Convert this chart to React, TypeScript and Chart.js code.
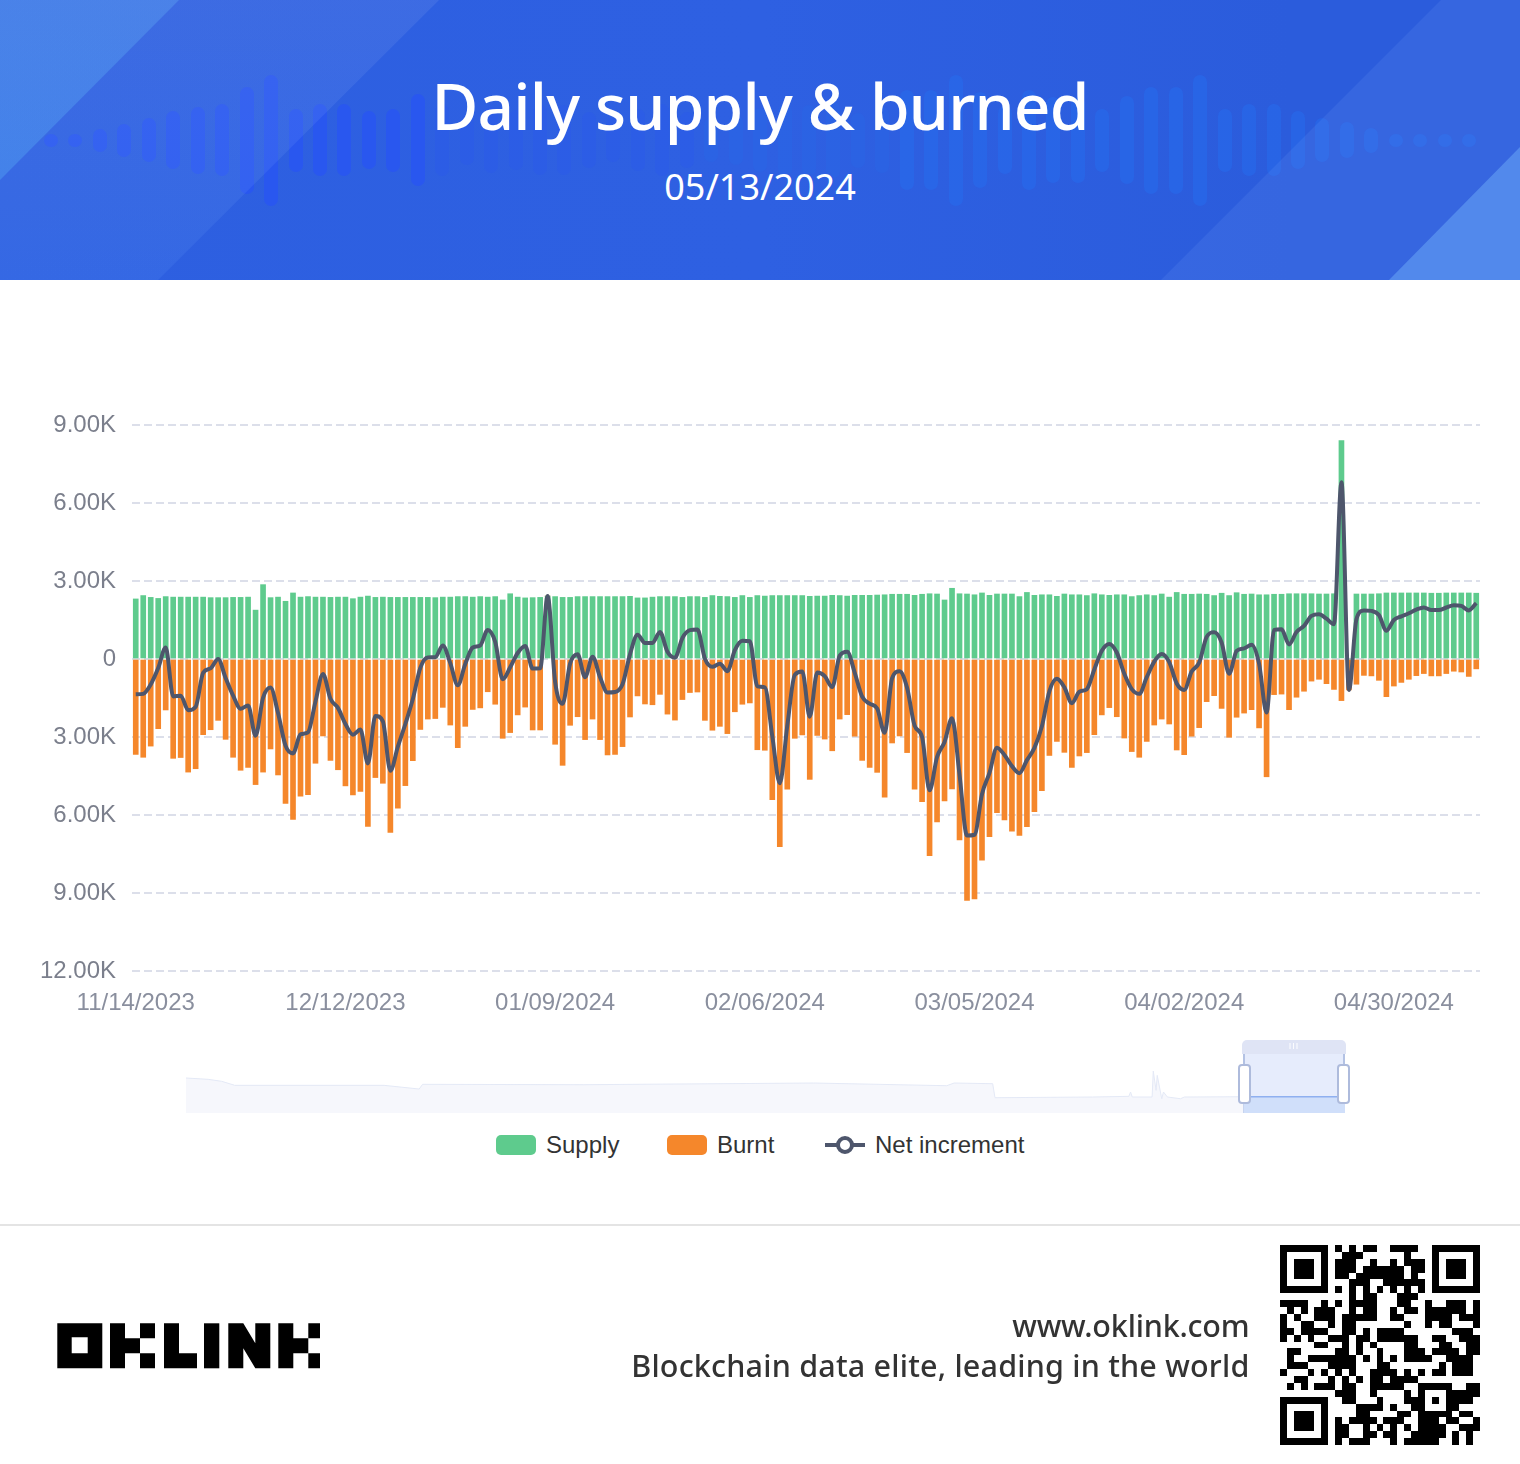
import React, { useEffect, useRef } from "react";
import { Chart, registerables } from "chart.js";

Chart.register(...registerables);

const startDate = [2023, 10, 14];
const dayCount = 180;
const tickEvery = 28;

const supply = [
  2310,2440,2370,2330,2400,2380,2380,2380,2380,2380,2360,2360,2360,2370,2370,2380,1880,2860,2360,2380,
  2220,2540,2380,2400,2380,2380,2370,2380,2380,2320,2380,2420,2370,2380,2370,2370,2370,2370,2370,2370,
  2360,2380,2380,2400,2400,2380,2400,2380,2400,2270,2510,2380,2350,2360,2370,2420,2400,2370,2370,2400,
  2400,2400,2400,2400,2400,2400,2410,2350,2350,2380,2400,2400,2400,2370,2400,2400,2370,2440,2410,2400,
  2370,2440,2370,2440,2420,2440,2440,2440,2440,2440,2410,2420,2420,2450,2440,2420,2450,2450,2450,2460,
  2470,2490,2490,2490,2450,2490,2510,2500,2270,2720,2510,2500,2470,2540,2450,2500,2500,2500,2400,2560,
  2450,2470,2470,2410,2500,2470,2470,2440,2510,2470,2450,2470,2470,2400,2440,2470,2440,2500,2380,2560,
  2490,2490,2500,2490,2440,2530,2440,2550,2490,2500,2470,2470,2490,2490,2510,2510,2510,2510,2500,2500,
  2510,8400,0,2500,2500,2500,2510,2540,2540,2540,2540,2540,2540,2530,2530,2540,2540,2540,2540,2530,
];

const burnt = [
  -3670,-3780,-3350,-2680,-1960,-3820,-3790,-4350,-4220,-2910,-2720,-2360,-3090,-3780,-4280,-4170,-4830,-4350,-3460,-4460,
  -5550,-6170,-5280,-5220,-4010,-2960,-3900,-4260,-4880,-5230,-5090,-6440,-4560,-4780,-6670,-5740,-4870,-3910,-2710,-2310,
  -2290,-1860,-2540,-3410,-2590,-1940,-1880,-1260,-1740,-3050,-2830,-2150,-1850,-2730,-2730,0,-3280,-4090,-2550,-2220,
  -3100,-2310,-3100,-3690,-3670,-3370,-2230,-1420,-1730,-1760,-1360,-2120,-2350,-1560,-1290,-1270,-2360,-2740,-2590,-2870,
  -2030,-1740,-1690,-3490,-3510,-5410,-7220,-5010,-3050,-2920,-4630,-2940,-3080,-3530,-2310,-2140,-2970,-3900,-4170,-4360,
  -5310,-3230,-2960,-3600,-5010,-5490,-7560,-6270,-5460,-5000,-6960,-9290,-9230,-7740,-6830,-5910,-6190,-6620,-6790,-6450,
  -5870,-5060,-3710,-3170,-3590,-4170,-3730,-3600,-2910,-2150,-1870,-2220,-3040,-3560,-3780,-3170,-2540,-2310,-2500,-3500,
  -3680,-2970,-2640,-1640,-1410,-1900,-3010,-2240,-2080,-1950,-2650,-4530,-1370,-1350,-1950,-1470,-1240,-850,-780,-950,
  -1170,-1600,-1190,-970,-630,-650,-820,-1450,-1040,-900,-780,-640,-560,-650,-650,-560,-470,-500,-670,-380,
];

const netIncrement = [
  -1360,-1340,-980,-350,440,-1440,-1410,-1970,-1840,-530,-360,0,-730,-1410,-1910,-1790,-2950,-1490,-1100,-2080,
  -3330,-3630,-2900,-2820,-1630,-580,-1530,-1880,-2500,-2910,-2710,-4020,-2190,-2400,-4300,-3370,-2500,-1540,-340,60,
  70,520,-160,-1010,-190,440,520,1120,660,-780,-320,230,500,-370,-360,2420,-880,-1720,-180,180,
  -700,90,-700,-1290,-1270,-970,180,930,620,620,1040,280,50,810,1110,1130,10,-300,-180,-470,
  340,700,680,-1050,-1090,-2970,-4780,-2570,-610,-480,-2220,-520,-660,-1080,130,280,-520,-1450,-1720,-1900,
  -2840,-740,-470,-1110,-2560,-3000,-5050,-3770,-3190,-2280,-4450,-6790,-6760,-5200,-4380,-3410,-3690,-4120,-4390,-3890,
  -3420,-2590,-1240,-760,-1090,-1700,-1260,-1160,-400,320,580,250,-570,-1160,-1340,-700,-100,190,-120,-940,
  -1190,-480,-140,850,1030,630,-570,310,410,550,-180,-2060,1120,1140,560,1040,1270,1660,1720,1550,
  1340,6800,-1190,1530,1870,1850,1690,1090,1500,1640,1760,1900,1980,1880,1880,1980,2070,2040,1870,2150,
];

const miniDays = [0,39,63,86,349,411,417,700,1106,1341,1354,1422,1426,1598,1662,1665,1668,1703,1705,1710,1712,1720,1723,1730,1753,1760,1864];
const miniValues = [5600,5390,5070,4430,4430,3840,4590,4530,4800,4370,4800,4690,2450,2560,2670,3360,2560,2560,6720,3630,6030,2290,3360,2560,2290,2560,2610];
const miniSelectedDays = [1864, 2043];
const miniSelectedValues = [2610, 2610];

const waveHeights = [13,13,23,33,44,58,67,72,107,131,63,72,72,58,63,92,72,49,66,60,70,70,56,44,62,72,56,44,50,64,
  72,70,76,55,66,100,100,131,96,68,100,86,86,63,88,107,107,131,63,72,72,58,44,36,25,13,13,13,13];

const qrRuns: number[][][] = [
  [[8,8],[10,10],[12,13],[16,19]],
  [[9,11],[18,18]],
  [[8,10],[13,13],[16,16],[18,20]],
  [[8,10],[12,17],[19,20]],
  [[8,9],[11,17],[19,19]],
  [[10,12],[15,17],[18,20]],
  [[8,8],[10,10],[12,12],[14,14],[16,16],[18,18],[20,20]],
  [[10,10],[12,13],[17,18],[19,19]],
  [[0,3],[6,6],[8,8],[10,13],[17,18],[21,21],[24,26],[28,28]],
  [[1,1],[3,3],[5,7],[10,10],[12,13],[16,16],[18,19],[21,26],[28,28]],
  [[0,0],[2,2],[5,7],[9,13],[16,17],[21,24],[26,28]],
  [[0,0],[3,4],[7,7],[9,10],[18,18],[21,21],[23,24],[28,28]],
  [[0,1],[3,6],[9,10],[12,12],[14,17],[25,27]],
  [[0,0],[2,2],[4,4],[7,9],[11,12],[14,19],[22,23],[26,28]],
  [[5,6],[9,9],[11,11],[13,13],[18,19],[23,24],[27,28]],
  [[1,2],[8,9],[11,11],[14,14],[18,20],[22,25],[27,28]],
  [[1,1],[4,10],[12,12],[14,14],[16,16],[18,21],[24,27]],
  [[1,3],[7,10],[14,15],[23,23],[25,27]],
  [[0,0],[4,4],[6,6],[8,8],[10,10],[13,16],[18,18],[20,20],[22,23],[25,27]],
  [[2,3],[7,7],[9,9],[11,11],[13,14],[16,19]],
  [[1,1],[3,3],[5,7],[9,10],[13,17],[20,24],[27,28]],
  [[8,10],[13,13],[18,18],[20,20],[24,28]],
  [[9,10],[14,14],[18,20],[22,22],[24,27]],
  [[11,14],[16,16],[19,20],[24,25]],
  [[11,12],[17,18],[20,24],[26,27]],
  [[8,8],[10,12],[13,13],[15,17],[20,22],[24,25],[28,28]],
  [[8,9],[12,12],[14,14],[16,16],[18,18],[20,23],[26,27],[28,28]],
  [[8,9],[12,13],[15,16],[19,23],[25,25],[27,27]],
  [[8,8],[10,12],[16,16],[18,22],[25,25],[27,27]],
];
const qrFinders = [[0,0],[22,0],[0,22]];

const categories: string[] = [];
for (let i = 0; i < dayCount; i++) {
  const d = new Date(startDate[0], startDate[1], startDate[2] + i);
  categories.push(
    String(d.getMonth() + 1).padStart(2, "0") + "/" + String(d.getDate()).padStart(2, "0") + "/" + d.getFullYear()
  );
}

const SANS = '"Liberation Sans", Arial, sans-serif';
const DISPLAY = '"Noto Sans", sans-serif';

function QrCode() {
  const rects: React.ReactNode[] = [];
  qrRuns.forEach((runs, r) =>
    runs.forEach(([a, b], i) => rects.push(<rect key={r + "-" + i} x={a} y={r} width={b - a + 1} height={1} />))
  );
  qrFinders.forEach(([c, r], i) =>
    rects.push(
      <g key={"f" + i}>
        <path fillRule="evenodd" d={`M${c} ${r}h7v7h-7zM${c + 1} ${r + 1}v5h5v-5z`} />
        <rect x={c + 2} y={r + 2} width={3} height={3} />
      </g>
    )
  );
  return (
    <svg width={200} height={200} viewBox="0 0 29 29" shapeRendering="crispEdges"
      style={{ position: "absolute", left: 1280, top: 1245 }}>
      {rects}
    </svg>
  );
}

function Logo() {
  const k = (x: number, w: number) => `M${x} 1323.3h15v15h15v-15h${w}v15h-${w}v15h${w}v15h-${w}v-15h-15v15h-15z`;
  return (
    <svg width={1520} height={1464} style={{ position: "absolute", left: 0, top: 0, pointerEvents: "none" }}>
      <path fillRule="evenodd" d="M57.3 1323.3h45v45h-45zM71.7 1337.3v16h16v-16z" fill="#000" />
      <path d={k(110, 15)} fill="#000" />
      <path d="M164 1323.3h15v30h18v15h-33z" fill="#000" />
      <rect x={204} y={1323.3} width={15.3} height={45} fill="#000" />
      <path d="M228.3 1323.3h15l12 20v-20h15v45h-15l-12-20v20h-15z" fill="#000" />
      <path d={k(278.3, 11.7)} fill="#000" />
    </svg>
  );
}

function Header() {
  const poly = (pts: string, bg: string) => (
    <div style={{ position: "absolute", inset: 0, clipPath: `polygon(${pts})`, background: bg }} />
  );
  const n = waveHeights.length;
  return (
    <div style={{ position: "absolute", left: 0, top: 0, width: 1520, height: 280, overflow: "hidden",
      background: "linear-gradient(90deg,#2d5fe0,#2e60e2 50%,#2b5cdc 85%)" }}>
      {waveHeights.map((h, i) => {
        const t = i / (n - 1);
        const mid = t > 0.27 && t < 0.6;
        const color = t < 0.45 ? "rgb(40,84,245)" : "rgb(38,108,236)";
        return (
          <div key={i} style={{ position: "absolute", left: 44 + i * 24.45, top: 140 - h / 2, width: 14, height: h,
            borderRadius: 7, background: color, opacity: mid ? 0.22 : t < 0.45 ? 0.7 : 0.55 }} />
        );
      })}
      {poly("0 0,439px 0,158px 280px,0 280px", "linear-gradient(180deg,rgba(255,255,255,.075),rgba(110,170,255,.12))")}
      {poly("0 0,179px 0,0 180px", "linear-gradient(200deg,rgba(150,190,245,.24),rgba(90,190,250,.3))")}
      {poly("1441px 0,1520px 0,1520px 280px,1161px 280px", "rgba(130,170,255,.13)")}
      {poly("1520px 147px,1520px 280px,1389px 280px", "rgba(130,195,255,.38)")}
      <div style={{ position: "absolute", left: 0, width: 1520, top: 64, textAlign: "center", color: "#fff",
        fontFamily: DISPLAY, fontWeight: 500, fontSize: 64, lineHeight: "84px", letterSpacing: -0.8 }}>Daily supply &amp; burned</div>
      <div style={{ position: "absolute", left: 0, width: 1520, top: 162, textAlign: "center", color: "#fff",
        fontFamily: DISPLAY, fontSize: 36, lineHeight: "50px" }}>05/13/2024</div>
    </div>
  );
}

function Legend() {
  const text = (x: number, s: string) => (
    <div style={{ position: "absolute", left: x, top: 1131, fontFamily: SANS, fontSize: 24, lineHeight: "28px", color: "#333" }}>{s}</div>
  );
  const box = (x: number, c: string) => (
    <div style={{ position: "absolute", left: x, top: 1135, width: 40, height: 20, borderRadius: 5, background: c }} />
  );
  return (
    <>
      {box(496, "#5ecb8d")}{text(546, "Supply")}
      {box(667, "#f5872b")}{text(717, "Burnt")}
      <div style={{ position: "absolute", left: 825, top: 1143, width: 40, height: 4, background: "#4e566c" }} />
      <div style={{ position: "absolute", left: 836, top: 1136, width: 10, height: 10, borderRadius: "50%", border: "4px solid #4e566c", background: "#fff" }} />
      {text(875, "Net increment")}
    </>
  );
}

function Slider() {
  return (
    <>
      <div style={{ position: "absolute", left: 1243, top: 1053, width: 102, height: 60, background: "#e6ecfc",
        borderLeft: "2px solid #b3c2e4", borderRight: "2px solid #b3c2e4", boxSizing: "border-box" }} />
      <div style={{ position: "absolute", left: 1242, top: 1040, width: 104, height: 14, background: "#dfe4f5", borderRadius: "5px 5px 0 0",
        color: "#fff", fontFamily: SANS, fontSize: 9, lineHeight: "13px", textAlign: "center", letterSpacing: 1 }}>III</div>
    </>
  );
}

function SliderHandles() {
  const handle = (x: number) => (
    <div style={{ position: "absolute", left: x, top: 1064, width: 9, height: 36, borderRadius: 4, background: "#fff", border: "2px solid #aebbdc" }} />
  );
  return (<>{handle(1238)}{handle(1337)}</>);
}

export default function App() {
  const mainRef = useRef<HTMLCanvasElement>(null);
  const miniRef = useRef<HTMLCanvasElement>(null);

  useEffect(() => {
    document.body.style.margin = "0";
    const main = new Chart(mainRef.current!, {
      type: "bar",
      data: {
        labels: categories,
        datasets: [
          { type: "line", label: "Net increment", data: netIncrement, borderColor: "#4e566c", borderWidth: 4,
            pointRadius: 0, cubicInterpolationMode: "monotone", order: 1, stack: "net", clip: false } as any,
          { type: "bar", label: "Supply", data: supply, backgroundColor: "#5ecb8d", barThickness: 5, order: 2, stack: "bars" },
          { type: "bar", label: "Burnt", data: burnt, backgroundColor: "#f5872b", barThickness: 5, order: 2, stack: "bars" },
        ],
      },
      options: {
        animation: false,
        responsive: false,
        devicePixelRatio: 1,
        layout: { padding: { left: 0, right: 40, top: 145, bottom: 0 } },
        plugins: { legend: { display: false }, tooltip: { enabled: false } },
        scales: {
          x: {
            stacked: true,
            grid: { display: false },
            border: { display: false },
            afterFit: (s: any) => { s.height = 109; },
            ticks: {
              autoSkip: false, maxRotation: 0, minRotation: 0, padding: 10,
              color: "#8a8f9e", font: { family: SANS, size: 24 },
              callback: (_v: any, i: number) => (i % tickEvery === 0 ? categories[i] : null),
            },
          },
          y: {
            stacked: true,
            min: -12000, max: 9000,
            grid: { color: "#dcdfea", lineWidth: 2, drawTicks: false },
            border: { display: false, dash: [8, 4] },
            afterFit: (s: any) => { s.width = 132; },
            ticks: {
              stepSize: 3000, padding: 16, color: "#7b7f8c", font: { family: SANS, size: 24 },
              callback: (v: any) => (v === 0 ? "0" : (Math.abs(v) / 1000).toFixed(2) + "K"),
            },
          },
        },
      },
    });
    const mini = new Chart(miniRef.current!, {
      type: "line",
      data: {
        datasets: [
          { data: miniDays.map((x, i) => ({ x, y: miniValues[i] })), borderColor: "#e4e9f6", borderWidth: 1,
            backgroundColor: "#f6f7fc", fill: "origin", pointRadius: 0 },
          { data: miniSelectedDays.map((x, i) => ({ x, y: miniSelectedValues[i] })), borderColor: "#8fb0f0", borderWidth: 1.5,
            backgroundColor: "#d0dffa", fill: "origin", pointRadius: 0 },
        ],
      },
      options: {
        animation: false,
        responsive: false,
        devicePixelRatio: 1,
        plugins: { legend: { display: false }, tooltip: { enabled: false } },
        layout: { padding: 0 },
        scales: {
          x: { type: "linear", display: false, min: 0, max: 2043 },
          y: { display: false, min: 0, max: 6880 },
        },
      },
    });
    return () => { main.destroy(); mini.destroy(); };
  }, []);

  return (
    <div style={{ position: "relative", width: 1520, height: 1464, background: "#fff", overflow: "hidden" }}>
      <Header />
      <canvas ref={mainRef} width={1520} height={800} style={{ position: "absolute", left: 0, top: 280, width: 1520, height: 800 }} />
      <Slider />
      <canvas ref={miniRef} width={1159} height={43} style={{ position: "absolute", left: 186, top: 1070, width: 1159, height: 43 }} />
      <SliderHandles />
      <Legend />
      <div style={{ position: "absolute", left: 0, top: 1224, width: 1520, height: 2, background: "#e4e4e4" }} />
      <Logo />
      <div style={{ position: "absolute", right: 270.5, top: 1305, textAlign: "right", color: "#333", fontFamily: DISPLAY, fontWeight: 500, fontSize: 30.5, lineHeight: "40px", whiteSpace: "nowrap" }}>
        <span style={{ letterSpacing: -0.2 }}>www.oklink.com</span><br />
        <span style={{ letterSpacing: 0.2 }}>Blockchain data elite, leading in the world</span>
      </div>
      <QrCode />
    </div>
  );
}
